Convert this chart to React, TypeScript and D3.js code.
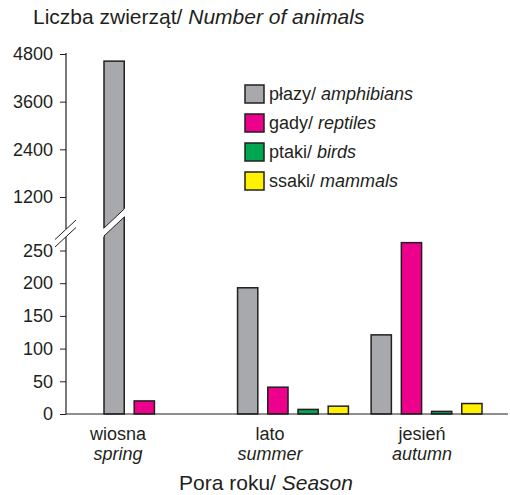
import * as React from 'react'
import * as d3 from 'd3'

const width = 510
const height = 495
const font = 'Liberation Sans, Arial, sans-serif'
const ink = '#231f20'

const seasons = ['wiosna', 'lato', 'jesień']
const seasonsEn = ['spring', 'summer', 'autumn']
const groups = ['płazy', 'gady', 'ptaki', 'ssaki']
const groupsEn = ['amphibians', 'reptiles', 'birds', 'mammals']
const colors = ['#a7a9ac', '#ec008c', '#00a651', '#fff200']

// values per season, one array per animal group (null = no bar)
const amphibians = [4620, 193, 121]
const reptiles = [20, 41, 262]
const birds = [null, 7, 4]
const mammals = [null, 12, 16]
const series = [amphibians, reptiles, birds, mammals]

const lowTicks = [0, 50, 100, 150, 200, 250]
const highTicks = [1200, 2400, 3600, 4800]

const axisX = 66
const breakY = 229

const App = () => {
  const x0 = d3.scaleBand().domain(seasons).range([104, 482]).paddingInner(0.17)
  const x1 = d3.scaleBand().domain(groups).range([0, x0.bandwidth()]).paddingInner(0.33)
  const xLabel = d3.scalePoint().domain(seasons).range([118, 422])

  const yLow = d3.scaleLinear().domain([0, 250]).range([414, 250.5])
  const yHigh = d3.scaleLinear().domain([1200, 4800]).range([197, 54])
  const yVal = (v: number) => (v > 1000 ? yHigh(v) : yLow(v))

  const lowRef = React.useRef(null)
  const highRef = React.useRef(null)

  React.useEffect(() => {
    const style = (g: any) => {
      g.select('.domain').remove()
      g.selectAll('line').attr('stroke', ink)
      g.selectAll('text').attr('font-family', font).attr('font-size', 18).attr('fill', ink)
    }
    d3.select(lowRef.current)
      .call(d3.axisLeft(yLow).tickValues(lowTicks).tickFormat(d3.format('d')).tickSize(6).tickPadding(7))
      .call(style)
    d3.select(highRef.current)
      .call(d3.axisLeft(yHigh).tickValues(highTicks).tickFormat(d3.format('d')).tickSize(6).tickPadding(7))
      .call(style)
  }, [])

  const bars: any[] = []
  series.forEach((vals, gi) => {
    vals.forEach((v, si) => {
      if (v == null) return
      bars.push({ season: seasons[si], group: groups[gi], value: v, color: colors[gi] })
    })
  })

  return (
    <svg width={width} height={height} style={{ position: 'absolute', left: 0, top: 0 }}>
      <text x={33} y={24} fontFamily={font} fontSize={21} fill={ink}>
        Liczba zwierząt/ <tspan fontStyle="italic">Number of animals</tspan>
      </text>

      {bars.map((d, i) => {
        const bx = x0(d.season)! + x1(d.group)!
        const top = yVal(d.value)
        return (
          <rect key={i} x={bx} y={top} width={x1.bandwidth()} height={yLow(0) - top}
            fill={d.color} stroke={ink} strokeWidth={1.5} />
        )
      })}

      {/* break across the tall bar */}
      {bars.filter(d => d.value > 1000).map((d, i) => {
        const bx = x0(d.season)! - 1
        const bw = x1.bandwidth() + 2
        const up = [[bx, breakY], [bx + bw, breakY - 21]]
        const lo = [[bx, breakY + 8], [bx + bw, breakY - 13]]
        return (
          <g key={'b' + i}>
            <polygon points={[...up, lo[1], lo[0]].map(p => p.join(',')).join(' ')} fill="white" />
            <line x1={up[0][0] + 1} y1={up[0][1] - 1} x2={up[1][0] - 1} y2={up[1][1] + 1} stroke={ink} strokeWidth={1} />
            <line x1={lo[0][0] + 1} y1={lo[0][1] - 1} x2={lo[1][0] - 1} y2={lo[1][1] + 1} stroke={ink} strokeWidth={1} />
          </g>
        )
      })}

      {/* y axis with break */}
      <line x1={axisX} y1={yLow(0)} x2={axisX} y2={237} stroke={ink} strokeWidth={1.2} />
      <line x1={axisX} y1={229} x2={axisX} y2={53} stroke={ink} strokeWidth={1.2} />
      <line x1={55} y1={239.5} x2={76} y2={220} stroke={ink} strokeWidth={1} />
      <line x1={55} y1={247} x2={76} y2={227.5} stroke={ink} strokeWidth={1} />
      <g ref={lowRef} transform={`translate(${axisX},0)`} />
      <g ref={highRef} transform={`translate(${axisX},0)`} />

      {/* x axis */}
      <line x1={axisX} y1={yLow(0)} x2={508} y2={yLow(0)} stroke={ink} strokeWidth={1.2} />
      {seasons.map((s, i) => (
        <g key={s} fontFamily={font} fontSize={18} fill={ink} textAnchor="middle">
          <text x={xLabel(s)} y={440}>{s}</text>
          <text x={xLabel(s)} y={460} fontStyle="italic">{seasonsEn[i]}</text>
        </g>
      ))}
      <text x={266} y={490} fontFamily={font} fontSize={21} fill={ink} textAnchor="middle">
        Pora roku/ <tspan fontStyle="italic">Season</tspan>
      </text>

      {/* legend */}
      {groups.map((g, i) => (
        <g key={g} transform={`translate(245,${85 + i * 29})`}>
          <rect width={19} height={18} fill={colors[i]} stroke={ink} strokeWidth={1.5} />
          <text x={24} y={15} fontFamily={font} fontSize={18} fill={ink}>
            {g}/ <tspan fontStyle="italic">{groupsEn[i]}</tspan>
          </text>
        </g>
      ))}
    </svg>
  )
}

export default App
